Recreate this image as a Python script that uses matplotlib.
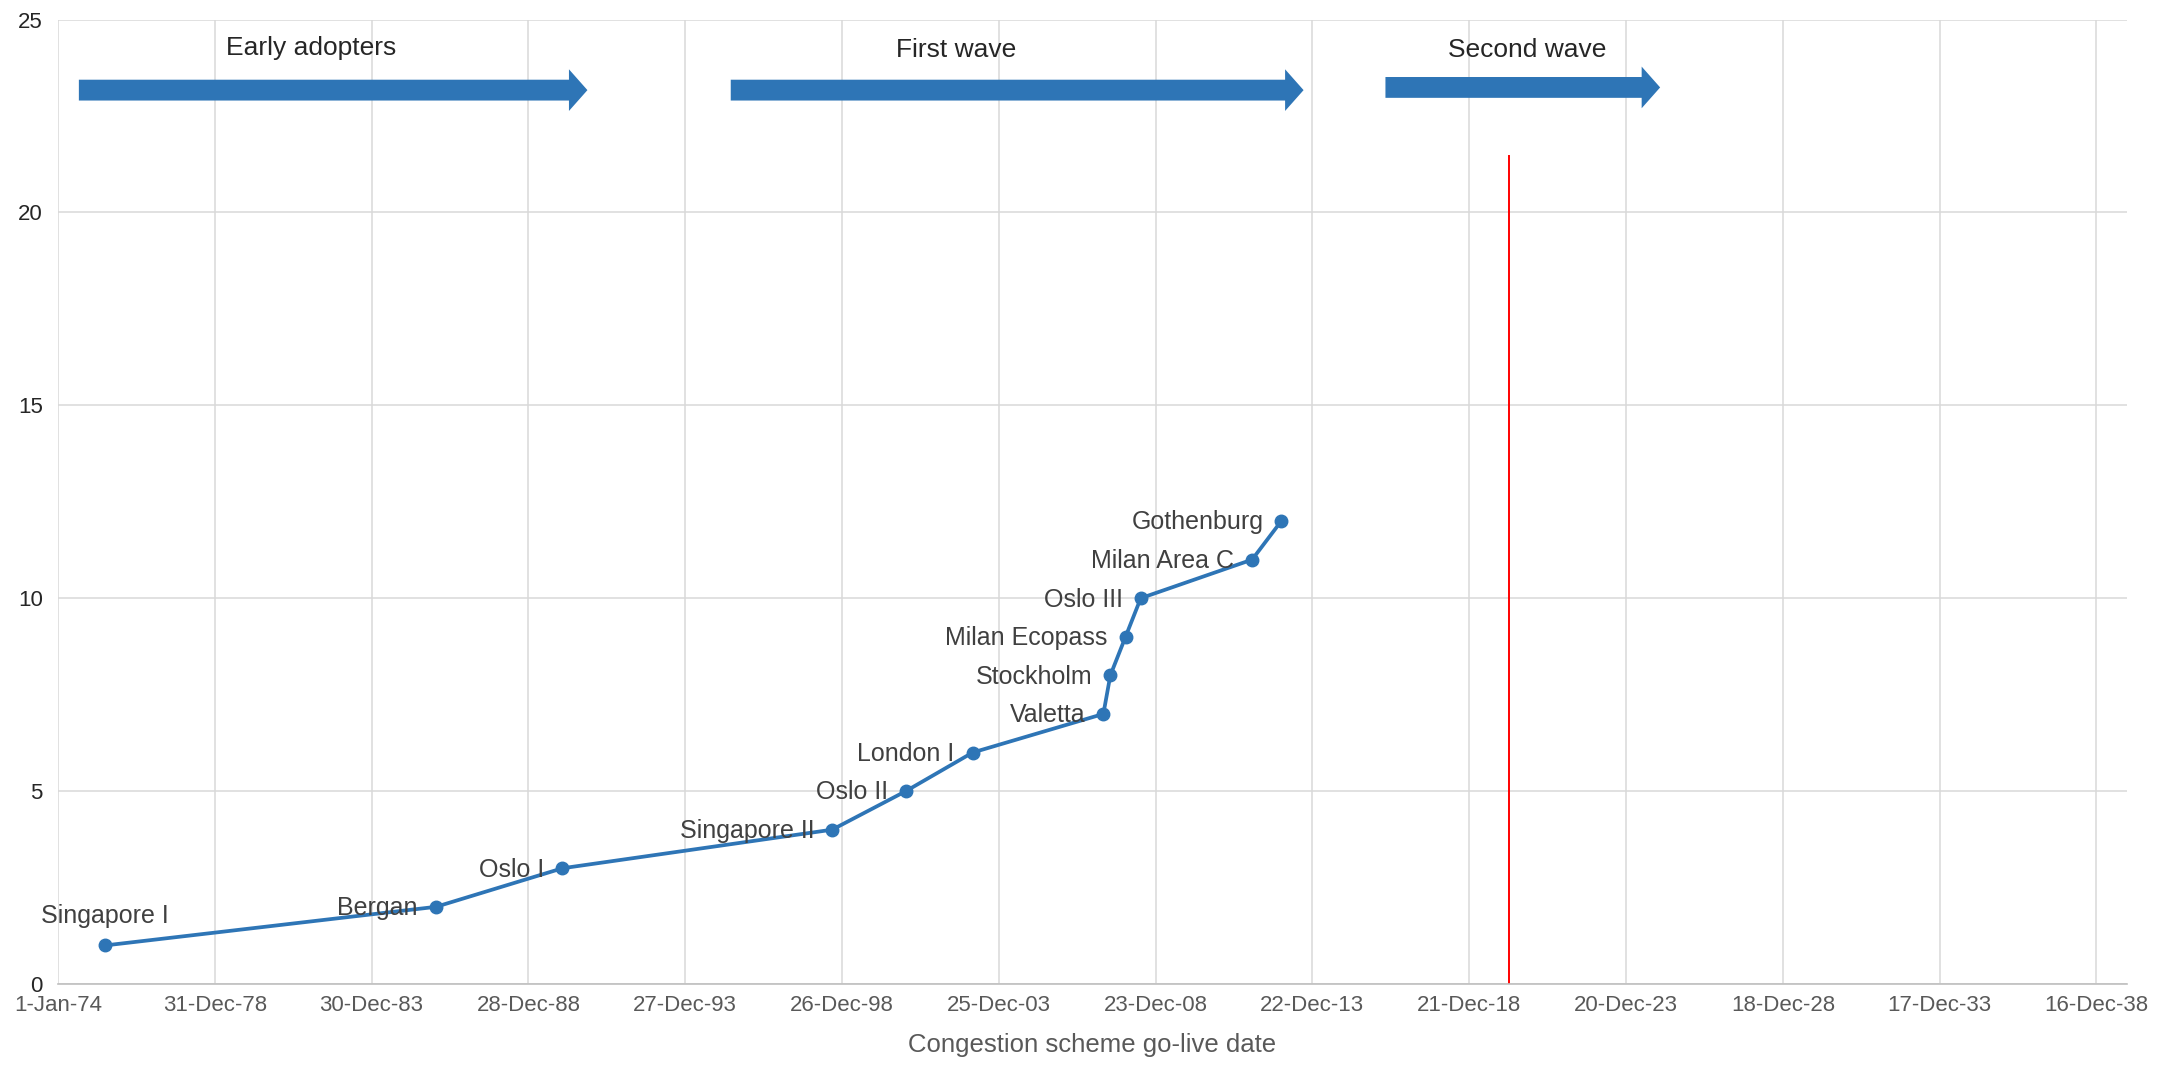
import matplotlib
matplotlib.use("Agg")
import matplotlib.pyplot as plt
import matplotlib.dates as mdates
from matplotlib.patches import FancyArrow
import pandas as pd

# --- Data ---
schemes = ["Singapore I", "Bergan", "Oslo I", "Singapore II", "Oslo II", "London I",
           "Valetta", "Stockholm", "Milan Ecopass", "Oslo III", "Milan Area C", "Gothenburg"]
golive = ["1975-07-05", "1986-01-17", "1990-01-28", "1998-09-03", "2001-01-08", "2003-02-24",
          "2007-04-25", "2007-07-15", "2008-01-08", "2008-07-03", "2012-01-20", "2012-12-25"]
count = [1, 2, 3, 4, 5, 6, 7, 8, 9, 10, 11, 12]

tick_labels = ["1-Jan-74", "31-Dec-78", "30-Dec-83", "28-Dec-88", "27-Dec-93", "26-Dec-98",
               "25-Dec-03", "23-Dec-08", "22-Dec-13", "21-Dec-18", "20-Dec-23", "18-Dec-28",
               "17-Dec-33", "16-Dec-38"]
y_ticks = [0, 5, 10, 15, 20, 25]

# phases: label, arrow start, arrow tip, arrow height, label position
phase_names = ["Early adopters", "First wave", "Second wave"]
phase_start = ["1974-09-01", "1995-06-10", "2016-04-20"]
phase_end = ["1990-11-15", "2013-09-10", "2025-01-20"]
phase_y = [23.17, 23.17, 23.24]
phase_label_x = ["1982-01-24", "2002-08-14", "2020-10-27"]
phase_label_y = [24.25, 24.2, 24.2]

now_line_date = "2020-03-27"
now_line_top = 21.45

# --- Style ---
BLUE = "#2E75B6"
GRID = "#D9D9D9"
TXT = "#595959"
LBL = "#404040"
plt.rcParams["font.family"] = ["Liberation Sans", "DejaVu Sans"]

fig = plt.figure(figsize=(21.8, 10.67), dpi=100)
ax = fig.add_axes([0.0266, 0.0778, 0.9491, 0.9039])

x = mdates.date2num(pd.to_datetime(golive))
ax.plot(x, count, color=BLUE, lw=2.7, marker="o", ms=9, zorder=3)

# data labels, mostly to the left of the points
for i, name in enumerate(schemes):
    if i == 0:
        ax.annotate(name, (x[i], count[i]), xytext=(0, 21), textcoords="offset points",
                    ha="center", va="center", fontsize=18, color=LBL)
    else:
        ax.annotate(name, (x[i], count[i]), xytext=(-13, -1), textcoords="offset points",
                    ha="right", va="center", fontsize=18, color=LBL)

# red marker line
xr = mdates.date2num(pd.Timestamp(now_line_date))
ax.plot([xr, xr], [0, now_line_top], color="red", lw=1.4, zorder=2)

# phase arrows
for i, name in enumerate(phase_names):
    xs = mdates.date2num(pd.Timestamp(phase_start[i]))
    xe = mdates.date2num(pd.Timestamp(phase_end[i]))
    ax.add_patch(FancyArrow(xs, phase_y[i], xe - xs, 0, width=0.54, head_width=1.08,
                            head_length=215, length_includes_head=True,
                            color=BLUE, lw=0, zorder=3))
    ax.text(mdates.date2num(pd.Timestamp(phase_label_x[i])), phase_label_y[i], name,
            ha="center", va="center", fontsize=19, color="#262626")

# axes
ticks = mdates.date2num(pd.to_datetime(tick_labels, format="%d-%b-%y"))
ax.set_xticks(ticks)
ax.set_xticklabels(tick_labels)
ax.set_xlim(ticks[0], ticks[-1] + 356)
ax.set_yticks(y_ticks)
ax.set_ylim(0, 25)
ax.grid(True, color=GRID, lw=1.1)
ax.set_axisbelow(True)
for s in ["left", "right", "top"]:
    ax.spines[s].set_visible(False)
ax.spines["bottom"].set_color("#BFBFBF")
ax.spines["bottom"].set_linewidth(1.2)
ax.tick_params(axis="both", length=0, colors=TXT, labelsize=16)
ax.tick_params(axis="x", pad=8)
ax.tick_params(axis="y", pad=11, labelcolor="#262626")
ax.set_xlabel("Congestion scheme go-live date", fontsize=18.5, color=TXT, labelpad=12)

fig.savefig("out.png", dpi=100)
